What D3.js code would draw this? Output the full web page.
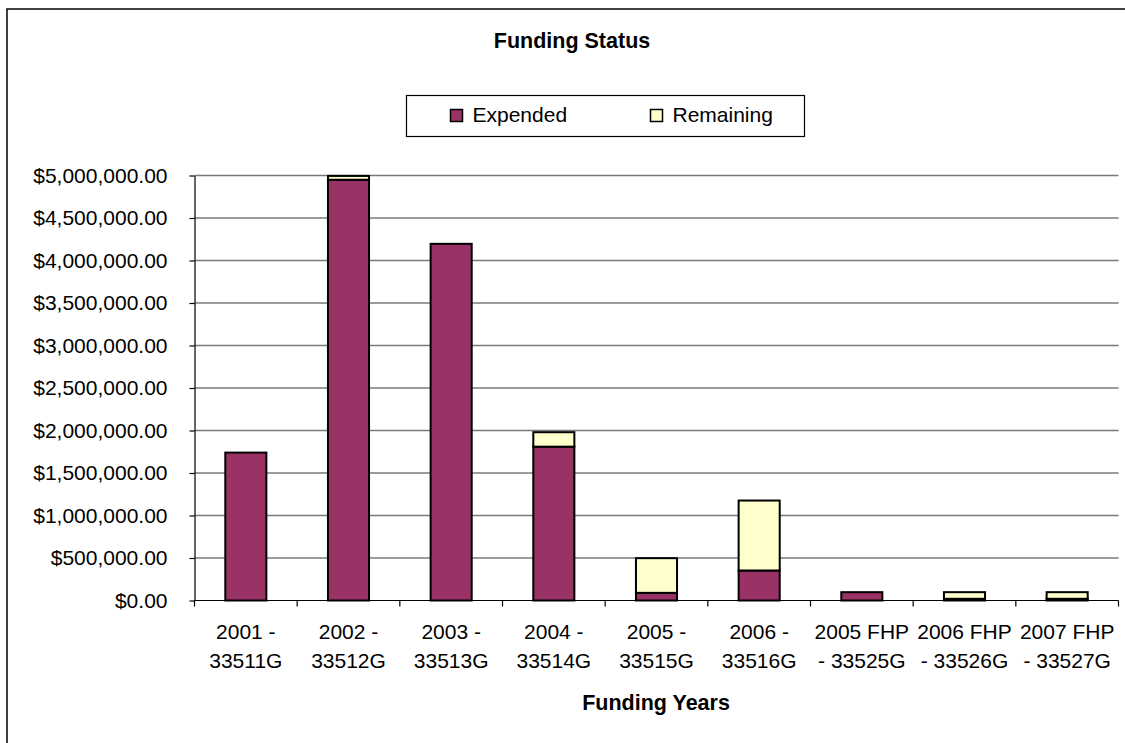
<!DOCTYPE html>
<html>
<head>
<meta charset="utf-8">
<script src="https://cdn.jsdelivr.net/npm/d3@7"></script>
<style>
  html, body { margin: 0; padding: 0; background: #fff; }
  svg { display: block; font-family: "Liberation Sans", Arial, sans-serif; }
</style>
</head>
<body>
<svg id="chart" width="1125" height="743"></svg>
<script>
const categories = [
  ["2001 -", "33511G"],
  ["2002 -", "33512G"],
  ["2003 -", "33513G"],
  ["2004 -", "33514G"],
  ["2005 -", "33515G"],
  ["2006 -", "33516G"],
  ["2005 FHP", "- 33525G"],
  ["2006 FHP", "- 33526G"],
  ["2007 FHP", "- 33527G"]
];
const expended  = [1740000, 4950000, 4196000, 1810000, 90000, 353000, 98000, 20000, 20000];
const remaining = [0, 45000, 0, 170000, 408000, 823000, 0, 78000, 78000];
const yTicks = [0, 500000, 1000000, 1500000, 2000000, 2500000, 3000000, 3500000, 4000000, 4500000, 5000000];
const seriesNames = ["Expended", "Remaining"];
const colors = ["#993366", "#FFFFCC"];

const svg = d3.select("#chart");
const pLeft = 194.5, pRight = 1118.5, pTop = 175.5, pBottom = 600.5;
const FONT = "Liberation Sans, Arial, sans-serif";

// outer frame
svg.append("rect").attr("x", 7).attr("y", 9).attr("width", 1130).attr("height", 750)
  .attr("fill", "none").attr("stroke", "#000").attr("stroke-width", 1.5);

const x = d3.scaleBand().domain(d3.range(categories.length)).range([pLeft, pRight]).paddingInner(0.6).paddingOuter(0.3);
const xb = d3.scaleBand().domain(d3.range(categories.length)).range([pLeft, pRight]);
const y = d3.scaleLinear().domain([0, 5000000]).range([pBottom, pTop]);

// gridlines
svg.append("g").selectAll("line").data(yTicks.filter(d => d > 0)).join("line")
  .attr("x1", pLeft).attr("x2", pRight)
  .attr("y1", d => y(d)).attr("y2", d => y(d))
  .attr("stroke", "#7a7a7a").attr("stroke-width", 1.4);

// bars
const stackData = categories.map((c, i) => ({ i, Expended: expended[i], Remaining: remaining[i] }));
const stack = d3.stack().keys(seriesNames)(stackData);
svg.append("g").selectAll("g").data(stack).join("g")
  .attr("fill", (d, k) => colors[k])
  .selectAll("rect").data(d => d.filter(s => s[1] - s[0] > 0)).join("rect")
  .attr("x", d => x(d.data.i))
  .attr("width", x.bandwidth())
  .attr("y", d => y(d[1]))
  .attr("height", d => y(d[0]) - y(d[1]))
  .attr("stroke", "#000").attr("stroke-width", 2);

// y axis
const yAxis = d3.axisLeft(y).tickValues(yTicks).tickSize(5).tickSizeOuter(0)
  .tickFormat(d => "$" + d3.format(",.2f")(d));
const gy = svg.append("g").attr("transform", `translate(${pLeft},0)`).call(yAxis);
gy.attr("font-family", FONT).attr("font-size", 21);
gy.select(".domain").attr("stroke", "#000").attr("stroke-width", 1.2);
gy.selectAll(".tick line").attr("stroke", "#000").attr("stroke-width", 1.2);
gy.selectAll(".tick text").attr("fill", "#000").attr("x", -27);

// x axis
const gx = svg.append("g").attr("transform", `translate(0,${pBottom})`);
gx.append("line").attr("x1", pLeft).attr("x2", pRight).attr("stroke", "#000").attr("stroke-width", 1.2);
const boundaries = d3.range(categories.length + 1).map(i => i === categories.length ? pRight : xb(i));
gx.selectAll("line.tk").data(boundaries).join("line").attr("class", "tk")
  .attr("x1", d => d).attr("x2", d => d).attr("y1", 0).attr("y2", 6).attr("stroke", "#000").attr("stroke-width", 1.2);
const lbl = gx.selectAll("text.cat").data(categories).join("text").attr("class", "cat")
  .attr("text-anchor", "middle").attr("font-size", 21).attr("fill", "#000")
  .attr("transform", (d, i) => `translate(${xb(i) + xb.bandwidth() / 2},0)`);
lbl.append("tspan").attr("x", 0).attr("y", 38).text(d => d[0]);
lbl.append("tspan").attr("x", 0).attr("y", 67).text(d => d[1]);

// titles
svg.append("text").attr("x", 572).attr("y", 48).attr("text-anchor", "middle")
  .attr("font-size", 21.5).attr("font-weight", "bold").text("Funding Status");
svg.append("text").attr("x", 656).attr("y", 710).attr("text-anchor", "middle")
  .attr("font-size", 21.5).attr("font-weight", "bold").text("Funding Years");

// legend
const lg = svg.append("g");
lg.append("rect").attr("x", 406.5).attr("y", 95.5).attr("width", 398).attr("height", 41)
  .attr("fill", "#fff").attr("stroke", "#000").attr("stroke-width", 1.2);
const legendX = [450.5, 650.5];
seriesNames.forEach((n, k) => {
  lg.append("rect").attr("x", legendX[k]).attr("y", 109.5).attr("width", 12).attr("height", 12)
    .attr("fill", colors[k]).attr("stroke", "#000").attr("stroke-width", 1.5);
  lg.append("text").attr("x", legendX[k] + 22).attr("y", 122).attr("font-size", 21).text(n);
});
</script>
</body>
</html>
